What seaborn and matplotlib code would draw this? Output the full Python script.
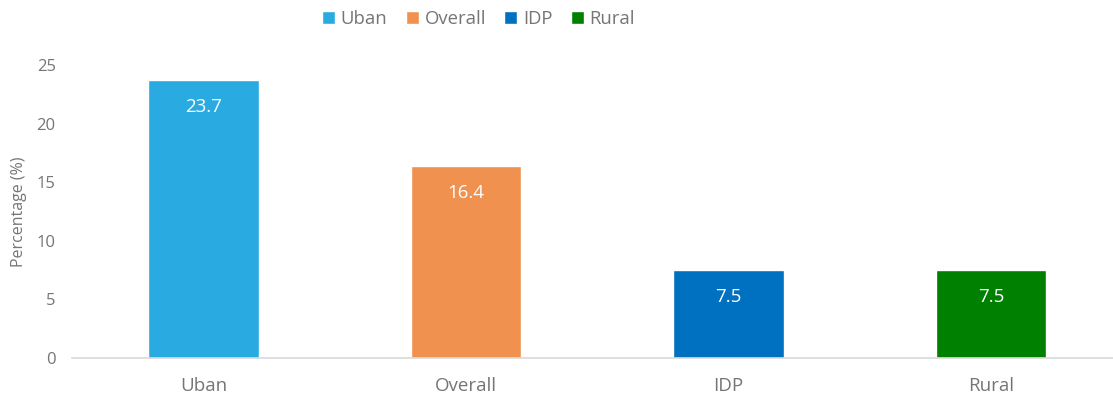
import matplotlib
matplotlib.use("Agg")
import matplotlib.pyplot as plt
import seaborn as sns
import pandas as pd

categories = ["Uban", "Overall", "IDP", "Rural"]
values = [23.7, 16.4, 7.5, 7.5]
colors = ["#29ABE2", "#F0914F", "#0070C0", "#008000"]
y_ticks = [0, 5, 10, 15, 20, 25]

sns.set_theme(style="white")
plt.rcParams["font.family"] = ["Open Sans", "DejaVu Sans"]

text_color = "#757575"

df = pd.DataFrame({"group": categories, "pct": values})

fig = plt.figure(figsize=(11.13, 3.96), dpi=100)
ax = fig.add_axes([0.065, 0.096, 0.9434, 0.740])

sns.barplot(data=df, x="group", y="pct", hue="group", order=categories,
            hue_order=categories, palette=colors, width=0.42,
            saturation=1, legend=True, ax=ax)

ax.set_xlim(-0.5, 3.5)
ax.set_ylim(0, 25)
ax.set_yticks(y_ticks)
ax.set_yticklabels([str(t) for t in y_ticks], fontsize=12, color=text_color)
ax.tick_params(axis="x", labelsize=13.5, colors=text_color, length=0, pad=14)
ax.tick_params(axis="y", length=0, pad=12)
ax.set_xlabel("")
ax.set_ylabel("Percentage (%)", fontsize=11.5, color=text_color)
ax.yaxis.set_label_coords(-0.043, 0.5)

for side in ["top", "right", "left"]:
    ax.spines[side].set_visible(False)
ax.spines["bottom"].set_color("#D9D9D9")
ax.spines["bottom"].set_linewidth(1.2)

for container in ax.containers:
    for bar, v in zip(container, container.datavalues):
        if bar.get_height() == 0:
            continue
        ax.annotate(f"{v:.1f}", (bar.get_x() + bar.get_width() / 2, v),
                    xytext=(0, -27), textcoords="offset pixels",
                    ha="center", va="center", fontsize=13.5, color="white")

handles, labels = ax.get_legend_handles_labels()
ax.get_legend().remove()
fig.legend(handles, labels, loc="center", bbox_to_anchor=(0.43, 0.952),
           ncol=4, frameon=False, fontsize=13.3, labelcolor=text_color,
           handlelength=0.7, handleheight=0.7, handletextpad=0.3,
           columnspacing=1.0)

fig.savefig("out.png", dpi=100)
